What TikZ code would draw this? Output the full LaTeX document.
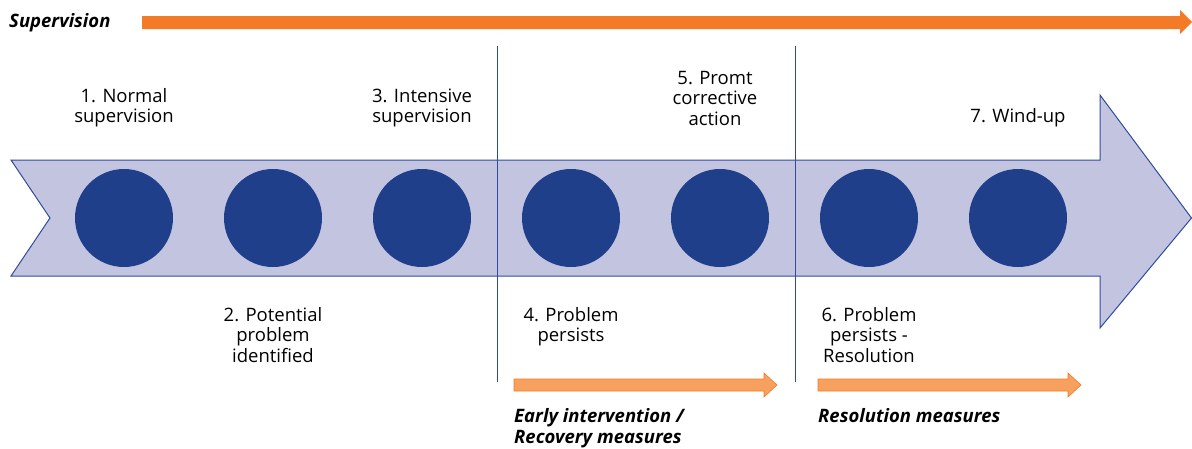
\documentclass[tikz,border=0pt]{standalone}
\usepackage{fontspec}
\setmainfont{Open Sans}
\usetikzlibrary{positioning}
\definecolor{bandfill}{HTML}{C3C5E0}
\definecolor{bandline}{HTML}{2F4B9E}
\definecolor{dotblue}{HTML}{203F8B}
\definecolor{suporange}{HTML}{F37A26}
\definecolor{measorange}{HTML}{F8A15F}

\begin{document}
\begin{tikzpicture}[x=1pt,y=-1pt,
        dot/.style={circle,fill=dotblue,minimum size=98pt,inner sep=0pt},
        lbl/.style={align=center,inner sep=0pt,font=\fontsize{18.5}{20.5}\selectfont},
        tag/.style={align=left,inner sep=0pt,font=\fontsize{18.5}{21}\selectfont\bfseries\itshape}]
            \useasboundingbox (0,0) rectangle (1192,448);
            % supervision
            \fill[suporange] (142,16) -- (1180,16) -- (1180,10) -- (1192,22) -- (1180,34) -- (1180,29) -- (142,29) -- cycle;
            \node[tag,anchor=west] (sup) at (9,23) {Supervision};
            % band
            \filldraw[fill=bandfill,draw=bandline,line width=1pt]
                (11,160) -- (1100,160) -- (1100,95) -- (1191.5,218) -- (1100,328) --
                (1100,276) -- (11,276) -- (50,218) -- cycle;
            \draw[bandline,line width=0.8pt] (497,46) -- (497,382);
            \draw[bandline,line width=0.8pt] (795,46) -- (795,382);
            \foreach \i in {1,...,7}
                \node[dot] (c\i) at ({124+149*(\i-1)},218) {};
            % stages
            \node[lbl,above=41.5pt of c1] (s1) {1. Normal\\supervision};
            \node[lbl,below=40pt of c2] (s2) {2. Potential\\problem\\identified};
            \node[lbl,above=41.5pt of c3] (s3) {3. Intensive\\supervision};
            \node[lbl,below=40pt of c4] (s4) {4. Problem\\persists};
            \node[lbl,above=43pt of c5,xshift=-5pt] (s5) {5. Promt\\corrective\\action};
            \node[lbl,below=40pt of c6] (s6) {6. Problem\\persists -\\Resolution};
            \node[lbl,above=41.5pt of c7] (s7) {7. Wind-up};
            % measures
            \filldraw[fill=measorange,draw=suporange,line width=0.6pt] (514,379) -- (764,379) -- (764,373) -- (777,385) -- (764,397) -- (764,391) -- (514,391) -- cycle;
            \filldraw[fill=measorange,draw=suporange,line width=0.6pt] (818,379) -- (1068,379) -- (1068,373) -- (1081,385) -- (1068,397) -- (1068,391) -- (818,391) -- cycle;
            \node[tag,anchor=north west] (m1) at (514,408) {Early intervention /\\Recovery measures};
            \node[tag,anchor=north west] (m2) at (818,408) {Resolution measures};
      \end{tikzpicture}
\end{document}
